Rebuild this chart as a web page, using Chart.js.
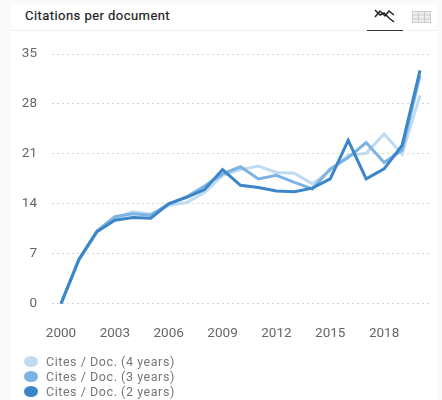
<!DOCTYPE html>
<html>
<head>
<meta charset="utf-8">
<script src="https://cdn.jsdelivr.net/npm/chart.js@4"></script>
<style>
  html, body { margin: 0; padding: 0; background: #fafafa; overflow: hidden; }
  body { width: 442px; height: 400px; position: relative; font-family: Roboto, sans-serif; }
  #card { position: absolute; left: 11px; top: 4px; width: 426px; height: 396px; background: #fff; }
  #head { position: absolute; left: 11px; top: 30px; width: 426px; height: 1px; background: #f1f1f1; }
  #title { position: absolute; left: 25px; top: 8px; font-size: 13px; line-height: 16px; font-weight: 400; color: #222; letter-spacing: 0.45px; -webkit-text-stroke: 0.2px #222; }
  #tab { position: absolute; left: 367px; top: 30px; width: 36px; height: 1px; background: #333; }
  svg { position: absolute; }
  #wrap { position: absolute; left: 0; top: 0; width: 442px; height: 356px; }
  #legend { position: absolute; left: 24px; top: 354px; font-size: 12.5px; line-height: 15px; color: #777; letter-spacing: 0.55px; }
  #legend div { height: 15px; white-space: nowrap; }
  #legend span { display: inline-block; width: 14px; height: 11px; border-radius: 50%; margin-right: 8px; vertical-align: -1px; }
</style>
</head>
<body>
<div id="card"></div>
<div id="head"></div>
<div id="title">Citations per document</div>
<div id="tab"></div>
<svg style="left:374px;top:8px" width="22" height="16" viewBox="0 0 22 16" fill="none" stroke="#222" stroke-width="1.5">
  <path d="M1 2 L6 7 L10 5 L15 10 L20 14"/>
  <path d="M1 9 L6 3 L11 8 L15 3 L20 7"/>
</svg>
<svg style="left:412px;top:11px" width="19" height="12" viewBox="0 0 19 12" fill="#eee" stroke="#ccc" stroke-width="1">
  <rect x="0.5" y="0.5" width="18" height="11"/>
  <path d="M0.5 4 H18.5 M0.5 8 H18.5 M6.5 0.5 V11.5 M12.5 0.5 V11.5"/>
</svg>
<div id="wrap"><canvas id="chart"></canvas></div>
<div id="legend"></div>
<script>
const years = [
  "2000", "2001", "2002", "2003", "2004", "2005", "2006", "2007", "2008", "2009", "2010",
  "2011", "2012", "2013", "2014", "2015", "2016", "2017", "2018", "2019", "2020",
];
const tickYears = ["2000", "2003", "2006", "2009", "2012", "2015", "2018"];
const cites4 = [0, 6.1, 10, 12, 12.9, 12.6, 13.8, 14.2, 15.6, 18, 18.8, 19.3, 18.4, 18.3, 16.8, 18.7, 20.8, 21.1, 23.8, 21, 29.2];
const cites3 = [0, 6.2, 10.2, 12.2, 12.6, 12.4, 14, 15, 16.5, 18.2, 19.2, 17.5, 18, 17, 16.1, 18.9, 20.5, 22.6, 19.8, 21.5, 32];
const cites2 = [0, 6.2, 10.1, 11.7, 12.1, 12, 14, 14.9, 16, 18.8, 16.6, 16.3, 15.8, 15.7, 16.2, 17.5, 22.9, 17.5, 18.9, 22.2, 32.7];

function makeSet(label, data, color, order) {
  return {
    label: label,
    data: data,
    borderColor: color,
    backgroundColor: color,
    borderWidth: 3,
    tension: 0,
    pointRadius: 0,
    fill: false,
    order: order,
  };
}

const chart = new Chart(document.getElementById("chart"), {
  type: "line",
  data: {
    labels: years,
    datasets: [
      makeSet("Cites / Doc. (4 years)", cites4, "#bfdaf1", 2),
      makeSet("Cites / Doc. (3 years)", cites3, "#7db3e2", 1),
      makeSet("Cites / Doc. (2 years)", cites2, "#3b86c8", 0),
    ],
  },
  options: {
    responsive: true,
    maintainAspectRatio: false,
    animation: false,
    layout: { padding: { top: 54, right: 13, left: 0, bottom: 0 } },
    plugins: { legend: { display: false }, tooltip: { enabled: false } },
    scales: {
      x: {
        offset: true,
        grid: { display: false },
        border: { display: false },
        ticks: {
          autoSkip: false,
          maxRotation: 0,
          padding: 14,
          color: "#666",
          font: { family: "Roboto", size: 13.5 },
          callback: function (value) {
            const name = this.getLabelForValue(value);
            return tickYears.includes(name) ? name : "";
          },
        },
      },
      y: {
        min: 0,
        max: 35,
        afterFit: function (scale) { scale.width = 52; },
        grid: { color: "#d4d4d4", drawTicks: false, lineWidth: 1 },
        border: { display: false, dash: [2, 3] },
        ticks: {
          stepSize: 7,
          padding: 15,
          color: "#666",
          font: { family: "Roboto", size: 13.5 },
        },
      },
    },
  },
});

// the legend sits in a stacked list under the plot
chart.data.datasets.forEach(function (ds) {
  const row = document.createElement("div");
  const dot = document.createElement("span");
  dot.style.background = ds.borderColor;
  row.appendChild(dot);
  row.appendChild(document.createTextNode(ds.label));
  document.getElementById("legend").appendChild(row);
});
</script>
</body>
</html>
